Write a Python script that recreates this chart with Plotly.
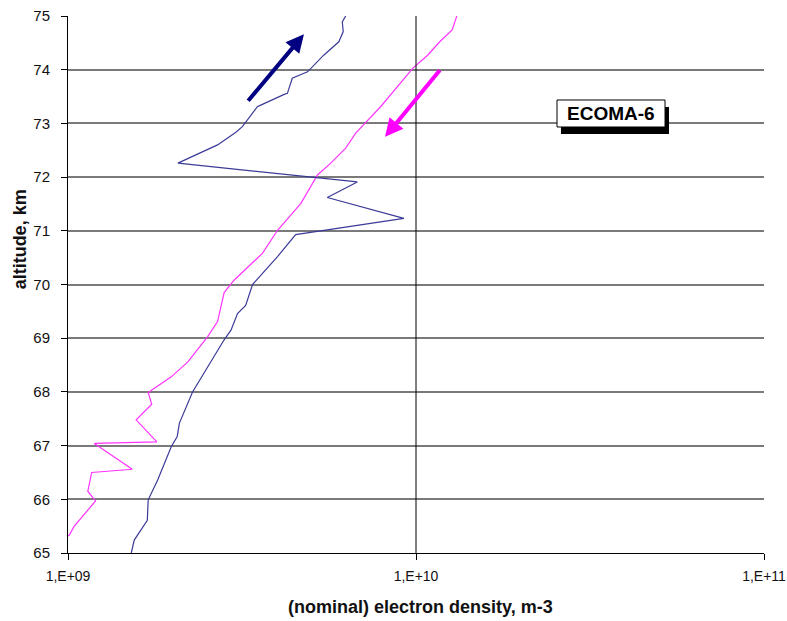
import plotly.graph_objects as go

# Blue (upleg) profile
blue_alt = [75.0, 74.89, 74.71, 74.52, 74.27, 73.96, 73.92, 73.84, 73.56, 73.54, 73.34, 73.31,
            72.94, 72.83, 72.60, 72.26, 71.91, 71.62, 71.23, 70.93, 70.52, 70.24, 70.08, 70.0,
            69.61, 69.46, 69.15, 68.97, 68.0, 67.42, 67.17, 66.98, 66.36, 65.99, 65.61, 65.24, 65.0]
blue_ne = [6.28e9, 6.14e9, 6.18e9, 6.0e9, 5.43e9, 4.88e9, 4.71e9, 4.41e9, 4.27e9, 4.18e9, 3.58e9, 3.50e9,
           3.17e9, 3.03e9, 2.69e9, 2.07e9, 6.78e9, 5.56e9, 9.23e9, 4.51e9, 4.0e9, 3.66e9, 3.50e9, 3.39e9,
           3.24e9, 3.07e9, 2.94e9, 2.81e9, 2.28e9, 2.09e9, 2.06e9, 1.98e9, 1.81e9, 1.70e9, 1.69e9, 1.55e9, 1.52e9]

# Magenta (downleg) profile
mag_alt = [65.25, 65.34, 65.49, 65.97, 66.15, 66.50, 66.56, 67.04, 67.07, 67.48, 67.77, 67.99, 68.28,
           68.56, 69.03, 69.31, 69.85, 70.08, 70.58, 71.01, 71.51, 72.04, 72.26, 72.54, 72.82, 73.31,
           74.03, 74.27, 74.52, 74.74, 75.0]
mag_ne = [0.97e9, 1.01e9, 1.04e9, 1.20e9, 1.14e9, 1.17e9, 1.53e9, 1.19e9, 1.80e9, 1.57e9, 1.74e9, 1.70e9, 1.98e9,
          2.21e9, 2.52e9, 2.69e9, 2.81e9, 3.0e9, 3.62e9, 4.0e9, 4.67e9, 5.21e9, 5.69e9, 6.28e9, 6.71e9, 7.91e9,
          9.80e9, 1.08e10, 1.17e10, 1.27e10, 1.31e10]

x_tickvals = [1e9, 1e10, 1e11]
x_ticktext = ["1,E+09", "1,E+10", "1,E+11"]
y_tickvals = list(range(65, 76))

FONT = "Liberation Sans, Arial, sans-serif"

fig = go.Figure()
fig.add_trace(go.Scatter(x=mag_ne, y=mag_alt, mode="lines",
                         line=dict(color="#FF33FF", width=1.2), showlegend=False))
fig.add_trace(go.Scatter(x=blue_ne, y=blue_alt, mode="lines",
                         line=dict(color="#3B3B98", width=1.2), showlegend=False))

fig.update_layout(
    width=787, height=621,
    margin=dict(l=68, r=23, t=16, b=68, autoexpand=False),
    paper_bgcolor="white", plot_bgcolor="white",
    font=dict(family=FONT, size=14, color="#111"),
    xaxis=dict(type="log", range=[9, 11], tickvals=x_tickvals, ticktext=x_ticktext,
               showgrid=False, zeroline=False, showline=True, linecolor="black", linewidth=1,
               ticks="outside", ticklen=6, tickcolor="black", ticklabelstandoff=4,
               tickfont=dict(size=14), automargin=False, ticklabeloverflow="allow"),
    yaxis=dict(range=[65, 75], tickvals=y_tickvals, showgrid=True, gridcolor="#7a7a7a",
               gridwidth=1.6, zeroline=False, showline=True, linecolor="black", linewidth=1,
               ticks="outside", ticklen=6, tickcolor="black", ticklabelstandoff=8,
               tickfont=dict(size=15), automargin=False, ticklabeloverflow="allow"),
    shapes=[
        dict(type="line", xref="x", yref="paper", x0=1e10, x1=1e10, y0=0, y1=1,
             line=dict(color="black", width=1), layer="above"),
        dict(type="rect", xref="paper", yref="paper", x0=0.7083, x1=0.8635, y0=0.7803, y1=0.8305,
             fillcolor="black", line=dict(width=0), layer="above"),
        dict(type="rect", xref="paper", yref="paper", x0=0.7026, x1=0.8578, y0=0.7933, y1=0.8436,
             fillcolor="white", line=dict(color="black", width=1), layer="above"),
    ],
    annotations=[
        dict(text="<b>ECOMA-6</b>", xref="paper", yref="paper", x=0.7802, y=0.8185,
             xanchor="center", yanchor="middle",
             showarrow=False, font=dict(size=19, color="black")),
        dict(text="<b>(nominal) electron density, m-3</b>", xref="paper", yref="paper",
             x=0.507, y=-0.1, xanchor="center", yanchor="middle", showarrow=False,
             font=dict(size=18, color="#111")),
        dict(text="<b>altitude, km</b>", xref="paper", yref="paper", x=-0.069, y=0.584,
             textangle=-90, xanchor="center", yanchor="middle", showarrow=False,
             font=dict(size=18, color="#111")),
        dict(text="", xref="paper", yref="paper", x=0.339, y=0.966, ax=-57, ay=68,
             showarrow=True, arrowhead=2, arrowsize=0.9, arrowwidth=4, arrowcolor="#000080"),
        dict(text="", xref="paper", yref="paper", x=0.4555, y=0.775, ax=56, ay=-68,
             showarrow=True, arrowhead=2, arrowsize=0.9, arrowwidth=4, arrowcolor="#FF00FF"),
    ],
)

# remove the browser's default page margin so the 787x621 figure fills the window exactly
fig.write_html("out.html", config={"displayModeBar": False},
               post_script="document.body.style.margin='0';document.body.style.overflow='hidden';")
